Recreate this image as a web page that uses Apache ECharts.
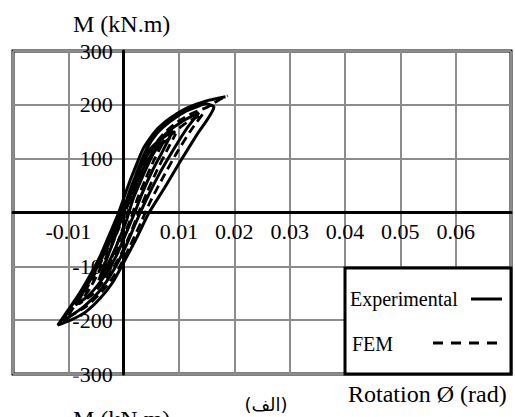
<!DOCTYPE html>
<html>
<head>
<meta charset="utf-8">
<script src="https://cdn.jsdelivr.net/npm/echarts@6/dist/echarts.min.js"></script>
<style>
html,body{margin:0;padding:0;background:#fff;}
#chart{width:515px;height:417px;}
</style>
</head>
<body>
<div id="chart"></div>
<script>
// Rotation (rad) and moment (kN.m)
var expRotation = [0, 0.0013, 0.0027, 0.0045, 0.0067, 0.0049, 0.0031, 0.0016, 0.0005, -0.0009, -0.0027, -0.0045,
  -0.0033, -0.0018, -0.0005, 0.0005, 0.0018, 0.0034, 0.0058, 0.0089, 0.0071, 0.0052, 0.0034, 0.0020, 0.0005, -0.0013,
  -0.0034, -0.0063, -0.0087, -0.0069, -0.0049, -0.0031, -0.0014, 0, 0.0014, 0.0031, 0.0052, 0.0078, 0.0107, 0.0136,
  0.0114, 0.0089, 0.0063, 0.0040, 0.0022, 0.0002, -0.0018, -0.0042, -0.0071, -0.0110, -0.0099, -0.0078, -0.0056,
  -0.0036, -0.0018, -0.0004, 0.0011, 0.0025, 0.0042, 0.0061, 0.0085, 0.0110, 0.0136, 0.0148, 0.0163, 0.0132, 0.0103,
  0.0074, 0.0045, 0.0024, 0, -0.0020, -0.0042, -0.0069, -0.0096, -0.0119, -0.0103, -0.0081, -0.0061, -0.0042, -0.0024,
  -0.0009, 0.0005, 0.0020, 0.0036, 0.0058, 0.0085, 0.0114, 0.0148, 0.0184];
var expMoment = [0, 41, 81, 115, 137, 100, 59, 22, -15, -52, -93, -126,
  -93, -52, -15, 22, 59, 96, 128, 152, 115, 78, 37, 0, -37, -80,
  -117, -154, -172, -141, -104, -67, -30, 7, 44, 85, 120, 148, 170, 185,
  156, 115, 69, 22, -19, -67, -107, -144, -174, -202, -181, -148, -111,
  -74, -33, 0, 37, 78, 119, 148, 170, 187, 198, 202, 196, 144, 96,
  46, -2, -46, -93, -130, -159, -185, -200, -209, -185, -152, -117, -80, -37,
  0, 41, 81, 120, 152, 176, 194, 207, 215];

var femRotation = [0, 0.0014, 0.0031, 0.0051, 0.0072, 0.0056, 0.0040, 0.0025, 0.0013, -0.0002, -0.0020, -0.0038,
  -0.0025, -0.0011, 0.0002, 0.0013, 0.0025, 0.0042, 0.0063, 0.0094, 0.0078, 0.0060, 0.0042, 0.0027, 0.0013, -0.0005,
  -0.0027, -0.0056, -0.0081, -0.0061, -0.0042, -0.0024, -0.0009, 0.0005, 0.0020, 0.0036, 0.0058, 0.0085, 0.0114, 0.0143,
  0.0121, 0.0096, 0.0071, 0.0049, 0.0031, 0.0011, -0.0009, -0.0034, -0.0067, -0.0103, -0.0089, -0.0067, -0.0047,
  -0.0029, -0.0013, 0.0002, 0.0016, 0.0033, 0.0051, 0.0072, 0.0098, 0.0125, 0.0152, 0.0172, 0.0188];
var femMoment = [0, 37, 74, 109, 131, 100, 63, 26, -11, -48, -89, -120,
  -93, -56, -19, 19, 54, 91, 122, 146, 115, 78, 37, 0, -37, -78,
  -115, -152, -170, -141, -104, -67, -30, 7, 44, 83, 119, 144, 167, 183,
  152, 111, 65, 22, -19, -63, -104, -141, -174, -196, -174, -141, -104,
  -67, -30, 4, 41, 81, 119, 146, 169, 185, 196, 209, 217];

// Tick labels that are shown
var xTickLabels = ['-0.01', '0.01', '0.02', '0.03', '0.04', '0.05', '0.06'];
var yTickLabels = ['300', '200', '100', '-100', '-200', '-300'];

function pairs(xs, ys) {
  var out = [];
  for (var i = 0; i < xs.length; i++) out.push([xs[i], ys[i]]);
  return out;
}

var SERIF = 'Liberation Serif, Times New Roman, serif';
var GRID = {left: 13, top: 51, right: 4, bottom: 43};
var W = 515, H = 417;
var gw = W - GRID.left - GRID.right, gh = H - GRID.top - GRID.bottom;
var X_MIN = -0.02, X_MAX = 0.07, Y_MIN = -300, Y_MAX = 300;
// move axes (line + labels) from the grid edges onto the zero lines
var xOffset = -(gh * (0 - Y_MIN) / (Y_MAX - Y_MIN));
var yOffset = -(gw * (0 - X_MIN) / (X_MAX - X_MIN));

var chart = echarts.init(document.getElementById('chart'), null, {renderer: 'svg'});

chart.setOption({
  animation: false,
  backgroundColor: '#fff',
  grid: {
    left: GRID.left, top: GRID.top, right: GRID.right, bottom: GRID.bottom,
    containLabel: false, outerBoundsMode: 'none',
    show: true, borderColor: '#000', borderWidth: 3, backgroundColor: 'transparent'
  },
  xAxis: {
    type: 'value', min: X_MIN, max: X_MAX, interval: 0.01, position: 'bottom', offset: xOffset,
    axisLine: {show: true, onZero: false, lineStyle: {color: '#000', width: 3}},
    axisTick: {show: false},
    splitLine: {show: true, lineStyle: {color: '#8c8c8c', width: 2}},
    axisLabel: {
      show: true, margin: 8, color: '#000', fontFamily: SERIF, fontSize: 22,
      showMinLabel: true, showMaxLabel: true, hideOverlap: false,
      formatter: function (v) {
        var s = (Math.round(v * 100) / 100).toFixed(2);
        return xTickLabels.indexOf(s) >= 0 ? s : '';
      }
    }
  },
  yAxis: {
    type: 'value', min: Y_MIN, max: Y_MAX, interval: 100, position: 'left', offset: yOffset,
    axisLine: {show: true, onZero: false, lineStyle: {color: '#000', width: 3}},
    axisTick: {show: false},
    splitLine: {show: true, lineStyle: {color: '#8c8c8c', width: 2}},
    axisLabel: {
      show: true, margin: 11, color: '#000', fontFamily: SERIF, fontSize: 22,
      showMinLabel: true, showMaxLabel: true, hideOverlap: false,
      formatter: function (v) {
        var s = String(Math.round(v));
        if (yTickLabels.indexOf(s) < 0) return '';
        if (s === '-300') return '{p|-}{n|300}';
        return s;
      },
      rich: {
        p: {color: '#7a4fb0', fontFamily: SERIF, fontSize: 22},
        n: {color: '#000', fontFamily: SERIF, fontSize: 22}
      }
    }
  },
  series: [
    {
      name: 'Experimental', type: 'line', data: pairs(expRotation, expMoment),
      symbol: 'none', smooth: 0.2, z: 3,
      lineStyle: {color: '#000', width: 3, type: 'solid'}
    },
    {
      name: 'FEM', type: 'line', data: pairs(femRotation, femMoment),
      symbol: 'none', smooth: 0.2, z: 4,
      lineStyle: {color: '#000', width: 2.8, type: [9, 5]}
    }
  ],
  graphic: [
    {type: 'text', x: 73, y: 24, z: 10,
      style: {text: 'M (kN.m)', fontFamily: SERIF, fontSize: 24, fill: '#000', textVerticalAlign: 'middle'}},
    {type: 'text', x: 348, y: 394, z: 10,
      style: {text: 'Rotation Ø (rad)', fontFamily: SERIF, fontSize: 24, fill: '#000', textVerticalAlign: 'middle'}},
    {type: 'text', x: 266, y: 404, z: 10,
      style: {text: '(الف)', fontFamily: 'DejaVu Sans, sans-serif', fontSize: 18, fill: '#000', textAlign: 'center', textVerticalAlign: 'middle'}},
    {type: 'text', x: 73, y: 407, z: 10,
      style: {text: 'M (kN.m)', fontFamily: SERIF, fontSize: 24, fill: '#000', textVerticalAlign: 'top'}},
    {type: 'rect', z: 20, shape: {x: 345, y: 268, width: 166, height: 106},
      style: {fill: '#fff', stroke: '#000', lineWidth: 3}},
    {type: 'text', z: 21, x: 350, y: 299,
      style: {text: 'Experimental', fontFamily: SERIF, fontSize: 20, fill: '#000', textVerticalAlign: 'middle'}},
    {type: 'line', z: 21, shape: {x1: 471, y1: 299, x2: 502, y2: 299},
      style: {stroke: '#000', lineWidth: 3}},
    {type: 'text', z: 21, x: 352, y: 344,
      style: {text: 'FEM', fontFamily: SERIF, fontSize: 20, fill: '#000', textVerticalAlign: 'middle'}},
    {type: 'line', z: 21, shape: {x1: 433, y1: 343, x2: 501, y2: 343},
      style: {stroke: '#000', lineWidth: 3, lineDash: [10, 8]}}
  ]
});
</script>
</body>
</html>
